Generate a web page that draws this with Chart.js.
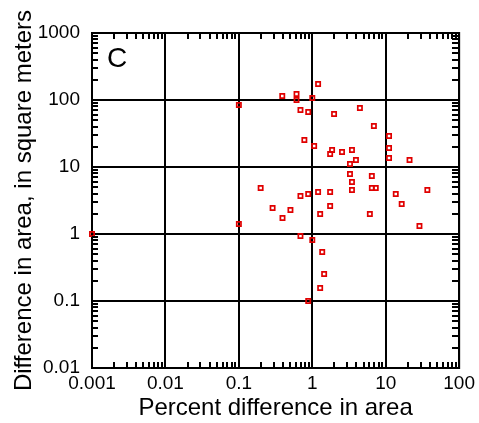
<!DOCTYPE html>
<html><head><meta charset="utf-8">
<script src="https://cdn.jsdelivr.net/npm/chart.js@4/dist/chart.umd.min.js"></script>
<style>html,body{margin:0;padding:0;background:#fff;}#wrap{width:479px;height:423px;}</style>
</head><body><div id="wrap"><canvas id="c" width="479" height="423"></canvas></div>
<script>
const percentDiff = [0.1, 0.39, 0.61, 0.61, 1.0, 1.2, 0.69, 0.88, 1.98, 4.45, 6.9, 11.1, 0.78, 1.06, 1.86, 1.75, 2.54, 3.47, 11.1, 3.93, 3.26, 11.1, 21.1, 3.26, 6.47, 3.47, 3.47, 6.47, 7.32, 13.7, 36.9, 16.5, 6.08, 28.8, 0.198, 0.69, 0.88, 1.2, 1.75, 0.288, 0.504, 0.393, 1.75, 1.28, 0.1, 0.69, 1.0, 1.365, 1.45, 1.28, 0.88, 0.001];
const areaDiff = [84, 115, 123, 100, 107, 173, 71, 66, 62, 76, 41, 29, 25.3, 20.6, 17.9, 15.6, 16.7, 17.9, 19.2, 12.7, 11.1, 13.6, 12.7, 7.86, 7.34, 5.97, 4.53, 4.86, 4.86, 3.95, 4.53, 2.8, 1.99, 1.32, 4.86, 3.69, 3.95, 4.24, 4.24, 2.44, 2.28, 1.73, 2.62, 1.99, 1.41, 0.934, 0.814, 0.539, 0.253, 0.156, 0.1, 1.0];
const xTickValues = [0.001, 0.01, 0.1, 1, 10, 100];
const xTickLabels = ['0.001', '0.01', '0.1', '1', '10', '100'];
const yTickValues = [0.01, 0.1, 1, 10, 100, 1000];
const yTickLabels = ['0.01', '0.1', '1', '10', '100', '1000'];
const xTitle = 'Percent difference in area';
const yTitle = 'Difference in area, in square meters';
const panelLabel = 'C';

Chart.defaults.font.family = '"Liberation Sans", Arial, sans-serif';
Chart.defaults.color = '#000';

const points = percentDiff.map((v, i) => ({x: v, y: areaDiff[i]}));

const frame = {
  id: 'frame',
  beforeDatasetsDraw(chart) {
    const {ctx, chartArea: a} = chart;
    ctx.save();
    ctx.strokeStyle = '#000';
    ctx.lineWidth = 2;
    ctx.strokeRect(a.left, a.top, a.right - a.left, a.bottom - a.top);
    ctx.restore();
  },
  afterDraw(chart) {
    const ctx = chart.ctx;
    const a = chart.chartArea;
    const x = chart.scales.x, y = chart.scales.y;
    ctx.save();
    ctx.fillStyle = '#000000';
    const L = Math.round(a.left), R = Math.round(a.right), T = Math.round(a.top), B = Math.round(a.bottom);
    for (let e = -3; e < 2; e++) {
      for (let k = 2; k < 10; k++) {
        const px = Math.round(x.getPixelForValue(k * Math.pow(10, e)));
        ctx.fillRect(px - 1, B - 6, 2, 6);
        ctx.fillRect(px - 1, T, 2, 6);
      }
    }
    for (let e = -2; e < 3; e++) {
      for (let k = 2; k < 10; k++) {
        const py = Math.round(y.getPixelForValue(k * Math.pow(10, e)));
        ctx.fillRect(L, py - 1, 6, 2);
        ctx.fillRect(R - 7, py - 1, 7, 2);
      }
    }
    ctx.font = '28px "Liberation Sans", Arial, sans-serif';
    ctx.textAlign = 'center';
    ctx.textBaseline = 'middle';
    ctx.fillText(panelLabel, a.left + 25, a.top + 26);
    ctx.restore();
  }
};

new Chart(document.getElementById('c'), {
  type: 'scatter',
  data: {datasets: [{
    data: points,
    pointStyle: 'rect',
    pointRadius: 3,
    pointHoverRadius: 3,
    pointBorderWidth: 1.7,
    borderColor: '#e00000',
    backgroundColor: 'rgba(0,0,0,0)',
    clip: false
  }]},
  options: {
    responsive: false,
    devicePixelRatio: 1,
    animation: false,
    events: [],
    layout: {padding: {top: 33, right: 17, left: 0, bottom: 0}},
    plugins: {legend: {display: false}, tooltip: {enabled: false}},
    scales: {
      x: {
        type: 'logarithmic', min: 0.001, max: 100,
        afterBuildTicks: s => { s.ticks = xTickValues.map(v => ({value: v})); },
        afterFit: s => { s.height = 55; },
        ticks: {callback: (v, i) => xTickLabels[i], font: {size: 19}, padding: 4, maxRotation: 0, autoSkip: false, color: '#000'},
        grid: {color: '#000', lineWidth: 2, drawTicks: false},
        border: {display: true, color: '#000', width: 2},
        title: {display: true, text: xTitle, font: {size: 24}, color: '#000', padding: {top: 0, bottom: 0}}
      },
      y: {
        type: 'logarithmic', min: 0.01, max: 1000,
        afterBuildTicks: s => { s.ticks = yTickValues.map(v => ({value: v})); },
        afterFit: s => { s.width = 92; },
        ticks: {callback: (v, i) => yTickLabels[i], font: {size: 19}, padding: 12, autoSkip: false, color: '#000'},
        grid: {color: '#000', lineWidth: 2, drawTicks: false},
        border: {display: true, color: '#000', width: 2},
        title: {display: true, text: yTitle, font: {size: 24}, color: '#000', padding: {top: 10, bottom: 0}}
      }
    }
  },
  plugins: [frame]
});
</script></body></html>
